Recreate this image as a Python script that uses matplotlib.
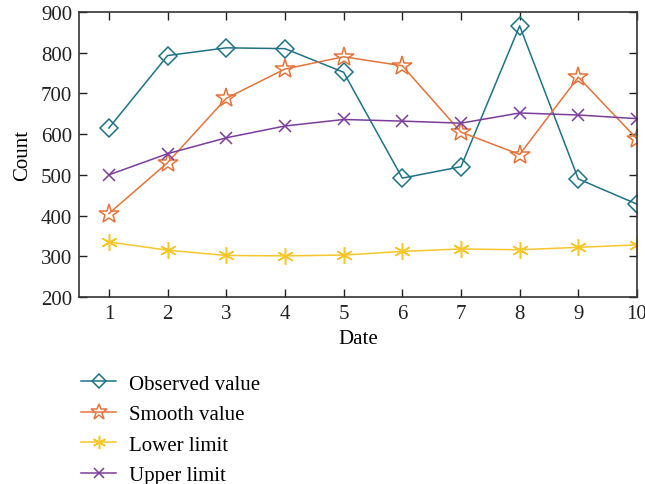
import matplotlib
matplotlib.use('Agg')
import matplotlib.pyplot as plt

plt.rcParams['font.family'] = ['Liberation Serif', 'DejaVu Serif']

dates = [1, 2, 3, 4, 5, 6, 7, 8, 9, 10]
observed = [615, 793, 812, 810, 752, 492, 520, 866, 490, 428]
smooth = [405, 530, 688, 760, 790, 768, 605, 550, 740, 588]
lower = [335, 315, 302, 301, 303, 312, 318, 316, 322, 328]
upper = [500, 552, 591, 620, 636, 632, 627, 652, 647, 638]

fig = plt.figure(figsize=(6.45, 4.85), dpi=100)
ax = fig.add_axes([79 / 645, 1 - 298 / 485, (637 - 79) / 645, (298 - 13) / 485])

ax.plot(dates, observed, color='#1d7385', lw=1.1, marker='D', ms=9,
        mfc='none', mew=1.1, label='Observed value')
ax.plot(dates, smooth, color='#e4743c', lw=1.1, marker='*', ms=15,
        mfc='none', mew=1.1, label='Smooth value')
ax.plot(dates, lower, color='#f8c52a', lw=1.1, marker=(6, 2, 0), ms=12,
        mew=1.1, label='Lower limit')
ax.plot(dates, upper, color='#7b3c9c', lw=1.1, marker='x', ms=9,
        mew=1.1, label='Upper limit')

ax.set_xlim(0.49, 10)
ax.set_ylim(200, 900)
ax.set_xticks(dates)
ax.set_yticks(range(200, 901, 100))
ax.tick_params(direction='in', top=True, right=True, length=6,
               width=1, labelsize=15, colors='#222222', pad=5)
for s in ax.spines.values():
    s.set_color('#333333')
    s.set_linewidth(1.2)
ax.set_xlabel('Date', fontsize=15, labelpad=4)
ax.set_ylabel('Count', fontsize=15, labelpad=6)

ax.legend(loc='upper left', bbox_to_anchor=(-0.03, -0.205), frameon=False,
          fontsize=15, handlelength=1.7, labelspacing=0.52, markerscale=0.8,
          handletextpad=0.6)

fig.savefig('out.png', dpi=100)
